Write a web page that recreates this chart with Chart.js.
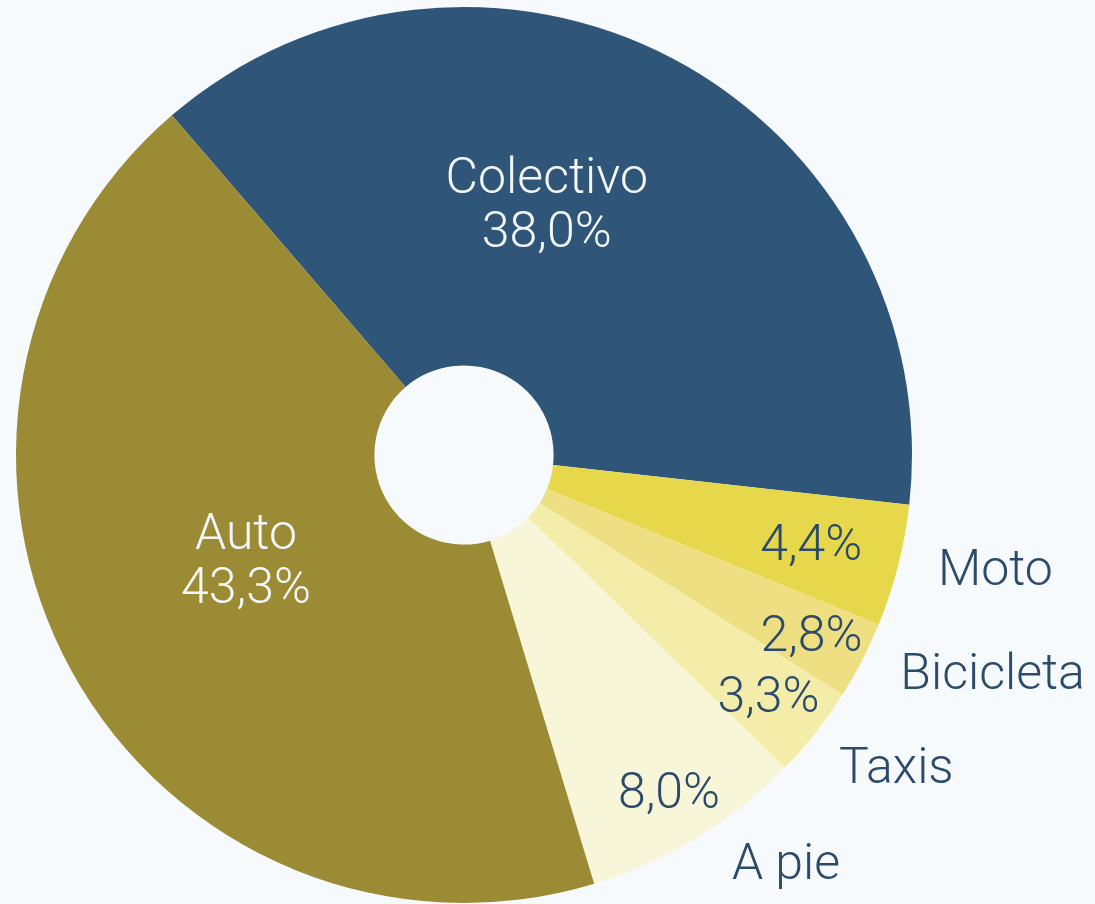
<!DOCTYPE html>
<html lang="es">
<head>
    <meta charset="UTF-8">
    <title>Reparto modal</title>
    <style>
        html, body {
            margin: 0;
            padding: 0;
            width: 1095px;
            height: 904px;
            overflow: hidden;
            background-color: #f6fafc;
        }
        #wrap {
            position: absolute;
            left: 0;
            top: 0;
            width: 1095px;
            height: 904px;
        }
    </style>
    <script src="https://cdn.jsdelivr.net/npm/chart.js"></script>
</head>
<body>
    <div id="wrap"><canvas id="modalChart"></canvas></div>

    <script>
        // datos
        const modos = ['Colectivo', 'Moto', 'Bicicleta', 'Taxis', 'A pie', 'Auto'];
        const porcentajes = [38.0, 4.4, 2.8, 3.3, 8.0, 43.3];
        const colores = ['#2f5678', '#e7d84b', '#eddf82', '#f4eda9', '#f7f6d9', '#9b8b34'];

        // como se rotula cada porción: 'dentro' = nombre y % en blanco, 'fuera' = % dentro y nombre afuera
        const tipoEtiqueta = ['dentro', 'fuera', 'fuera', 'fuera', 'fuera', 'dentro'];
        const fraccionAngulo = [0.43, 0.5, 0.5, 0.5, 0.5, 0.52];
        const radioPct = [0.59, 0.80, 0.873, 0.866, 0.88, 0.54];
        const fraccionNombre = [0, 0.45, 0.42, 0.62, 0.43, 0];

        const fmt = v => v.toFixed(1).replace('.', ',') + '%';

        const etiquetas = {
            id: 'etiquetas',
            afterDatasetsDraw(chart) {
                const ctx = chart.ctx;
                const arcs = chart.getDatasetMeta(0).data;
                const dy = 4; // la fuente queda un poco alta con 'middle'
                ctx.save();
                ctx.font = '300 50px Roboto, "DejaVu Sans", sans-serif';
                ctx.textBaseline = 'middle';
                arcs.forEach((arc, i) => {
                    const p = arc.getProps(['x', 'y', 'startAngle', 'endAngle', 'outerRadius'], true);
                    const span = p.endAngle - p.startAngle;
                    const ang = p.startAngle + span * fraccionAngulo[i];
                    const r = p.outerRadius * radioPct[i];
                    const cx = p.x + Math.cos(ang) * r;
                    const cy = p.y + Math.sin(ang) * r + dy;
                    if (tipoEtiqueta[i] === 'dentro') {
                        ctx.fillStyle = '#f3f7fb';
                        ctx.textAlign = 'center';
                        ctx.fillText(modos[i], cx, cy - 27);
                        ctx.fillText(fmt(porcentajes[i]), cx, cy + 27);
                    } else {
                        ctx.fillStyle = '#2c4b6b';
                        ctx.textAlign = 'center';
                        ctx.fillText(fmt(porcentajes[i]), cx, cy);
                        const an = p.startAngle + span * fraccionNombre[i];
                        const ro = p.outerRadius * 1.088;
                        ctx.textAlign = 'left';
                        ctx.fillText(modos[i], p.x + Math.cos(an) * ro, p.y + Math.sin(an) * ro + dy);
                    }
                });
                ctx.restore();
            }
        };

        new Chart(document.getElementById('modalChart'), {
            type: 'doughnut',
            data: {
                labels: modos,
                datasets: [{
                    data: porcentajes,
                    backgroundColor: colores,
                    borderWidth: 0,
                    hoverOffset: 0
                }]
            },
            options: {
                responsive: true,
                maintainAspectRatio: false,
                animation: false,
                rotation: -40.7,
                cutout: '20%',
                layout: { padding: { left: 16, top: 7, right: 183, bottom: 1 } },
                plugins: {
                    legend: { display: false },
                    tooltip: { enabled: false }
                }
            },
            plugins: [etiquetas]
        });
    </script>
</body>
</html>
